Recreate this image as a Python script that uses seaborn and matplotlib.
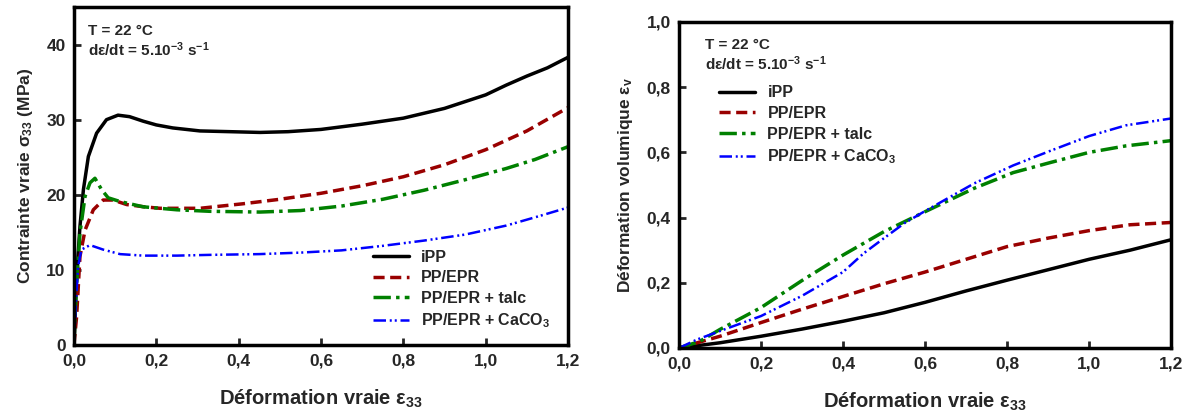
import matplotlib
matplotlib.use('Agg')
import matplotlib.pyplot as plt
import seaborn as sns

# ---------------------------------------------------------------------------
# Data
# ---------------------------------------------------------------------------
# Left panel: true stress (MPa) vs true strain
ipp_strain = [0, 0.0065, 0.0146, 0.023, 0.035, 0.055, 0.079, 0.107, 0.135, 0.168,
              0.2, 0.24, 0.306, 0.38, 0.452, 0.52, 0.6, 0.7, 0.8, 0.9, 1.0,
              1.05, 1.1, 1.15, 1.2]
ipp_stress = [0, 9.1, 15.8, 20.7, 25.1, 28.2, 30.0, 30.6, 30.4, 29.8,
              29.3, 28.9, 28.5, 28.4, 28.3, 28.4, 28.7, 29.4, 30.2, 31.5, 33.3,
              34.6, 35.8, 36.9, 38.3]

epr_strain = [0, 0.0065, 0.0146, 0.027, 0.047, 0.071, 0.095, 0.128, 0.17, 0.209,
              0.306, 0.41, 0.5, 0.6, 0.7, 0.8, 0.9, 1.0, 1.1, 1.2]
epr_stress = [0, 3.8, 11.8, 15.3, 18.0, 19.3, 19.3, 18.7, 18.4, 18.2,
              18.2, 18.8, 19.4, 20.2, 21.2, 22.4, 24.0, 26.0, 28.5, 31.6]

talc_strain = [0, 0.002, 0.0065, 0.0146, 0.027, 0.039, 0.051, 0.067, 0.083, 0.112,
               0.168, 0.25, 0.33, 0.452, 0.55, 0.65, 0.75, 0.85, 0.95, 1.05, 1.12, 1.2]
talc_stress = [0, 2.9, 8.2, 14.9, 19.8, 21.6, 22.2, 20.7, 19.6, 19.1,
               18.4, 18.0, 17.8, 17.7, 17.9, 18.5, 19.4, 20.6, 22.0, 23.5, 24.7, 26.4]

caco3_strain = [0, 0.005, 0.01, 0.018, 0.039, 0.071, 0.112, 0.168, 0.25, 0.33,
                0.45, 0.55, 0.65, 0.75, 0.85, 0.95, 1.05, 1.12, 1.2]
caco3_stress = [0, 6.0, 10.4, 12.7, 13.3, 12.7, 12.1, 11.9, 11.9, 12.0,
                12.1, 12.3, 12.6, 13.2, 13.9, 14.7, 15.9, 17.0, 18.3]

# Right panel: volumetric strain vs true strain
vol_strain = [0, 0.1, 0.2, 0.3, 0.4, 0.5, 0.6, 0.7, 0.8, 0.9, 1.0, 1.1, 1.2]
ipp_vol = [0, 0.016, 0.036, 0.058, 0.082, 0.108, 0.14, 0.175, 0.208, 0.24, 0.272, 0.30, 0.332]
epr_vol = [0, 0.036, 0.078, 0.119, 0.158, 0.197, 0.233, 0.272, 0.311, 0.337, 0.36, 0.378, 0.385]

talc_vol_strain = [0, 0.05, 0.1, 0.2, 0.3, 0.4, 0.5, 0.6, 0.72, 0.815, 0.906, 1.0, 1.09, 1.2]
talc_vol = [0, 0.02, 0.057, 0.124, 0.207, 0.285, 0.357, 0.418, 0.49, 0.538, 0.569, 0.6, 0.62, 0.636]

caco3_vol_strain = [0, 0.044, 0.1, 0.2, 0.3, 0.4, 0.45, 0.5, 0.55, 0.6, 0.72, 0.815,
                    0.906, 1.0, 1.09, 1.2]
caco3_vol = [0, 0.026, 0.052, 0.098, 0.16, 0.233, 0.29, 0.337, 0.383, 0.42, 0.505, 0.56,
             0.605, 0.65, 0.683, 0.704]

labels = ['iPP', 'PP/EPR', 'PP/EPR + talc', r'PP/EPR + CaCO$_3$']

x_ticks = [0, 0.2, 0.4, 0.6, 0.8, 1.0, 1.2]
x_ticklabels = ['0,0', '0,2', '0,4', '0,6', '0,8', '1,0', '1,2']
left_yticks = [0, 10, 20, 30, 40]
right_yticks = [0, 0.2, 0.4, 0.6, 0.8, 1.0]
right_yticklabels = ['0,0', '0,2', '0,4', '0,6', '0,8', '1,0']

# ---------------------------------------------------------------------------
# Styles
# ---------------------------------------------------------------------------
COLORS = ['black', '#990000', '#008000', '#0000FF']
STYLES = ['-', (0, (3.2, 1.6)), (0, (5, 1.5, 1, 1.5)), (0, (5, 1.5, 0.8, 1.2, 0.8, 1.5))]
WIDTHS = [2.5, 2.5, 2.5, 1.8]

sns.set_style('ticks')
plt.rcParams['font.family'] = ['Liberation Sans', 'DejaVu Sans']
plt.rcParams['font.weight'] = 'bold'
plt.rcParams['mathtext.fontset'] = 'custom'
plt.rcParams['mathtext.rm'] = 'Liberation Sans:bold'
plt.rcParams['mathtext.it'] = 'Liberation Sans:bold'
plt.rcParams['mathtext.bf'] = 'Liberation Sans:bold'
plt.rcParams['mathtext.sf'] = 'Liberation Sans:bold'

fig = plt.figure(figsize=(11.89, 4.19), dpi=100)
ax1 = fig.add_axes([0.0622, 0.1766, 0.4155, 0.8067])
ax2 = fig.add_axes([0.5711, 0.1695, 0.4138, 0.7780])

left_series = [(ipp_strain, ipp_stress), (epr_strain, epr_stress),
               (talc_strain, talc_stress), (caco3_strain, caco3_stress)]
right_series = [(vol_strain, ipp_vol), (vol_strain, epr_vol),
                (talc_vol_strain, talc_vol), (caco3_vol_strain, caco3_vol)]

for ax, series in [(ax1, left_series), (ax2, right_series)]:
    for (xs, ys), lab, col, ls, lw in zip(series, labels, COLORS, STYLES, WIDTHS):
        sns.lineplot(x=xs, y=ys, ax=ax, color=col, linestyle=ls, linewidth=lw,
                     label=lab, sort=False, estimator=None)

LEG_KW = dict(loc='upper left', frameon=False, fontsize=11.5, borderpad=0,
              handlelength=2.2, handletextpad=0.8, labelspacing=0.35)
NOTE_KW = dict(fontsize=11, fontweight='bold', va='center')
NOTE_RATE = 'd$\\varepsilon$/dt = 5.10$^{\\mathrm{-}3}$ s$^{\\mathrm{-}1}$'

# Left panel
ax1.set_xlim(0, 1.2)
ax1.set_ylim(0, 45)
ax1.set_yticks(left_yticks)
ax1.set_ylabel(r'Contrainte vraie $\sigma_{33}$ (MPa)', fontsize=12.5, fontweight='bold', labelpad=8)
ax1.legend(bbox_to_anchor=(0.59, 0.305), **LEG_KW)
ax1.text(0.028, 0.929, 'T = 22 °C', transform=ax1.transAxes, **NOTE_KW)
ax1.text(0.028, 0.873, NOTE_RATE, transform=ax1.transAxes, **NOTE_KW)

# Right panel
ax2.set_xlim(0, 1.2)
ax2.set_ylim(0, 1.0)
ax2.set_yticks(right_yticks)
ax2.set_yticklabels(right_yticklabels)
ax2.set_ylabel(r'Déformation volumique $\varepsilon_v$', fontsize=12.5, fontweight='bold', labelpad=8)
ax2.legend(bbox_to_anchor=(0.066, 0.83), **LEG_KW)
ax2.text(0.053, 0.929, 'T = 22 °C', transform=ax2.transAxes, **NOTE_KW)
ax2.text(0.053, 0.872, NOTE_RATE, transform=ax2.transAxes, **NOTE_KW)

for ax in (ax1, ax2):
    ax.set_xticks(x_ticks)
    ax.set_xticklabels(x_ticklabels)
    ax.set_xlabel(r'Déformation vraie $\varepsilon_{33}$', fontsize=14.5, fontweight='bold', labelpad=14)
    ax.tick_params(direction='in', length=5, width=2, labelsize=12.5, pad=6)
    for lab in ax.get_xticklabels() + ax.get_yticklabels():
        lab.set_fontweight('bold')
    for sp in ax.spines.values():
        sp.set_visible(True)
        sp.set_linewidth(2.5)
        sp.set_color('black')

fig.savefig('out.png', dpi=100)
